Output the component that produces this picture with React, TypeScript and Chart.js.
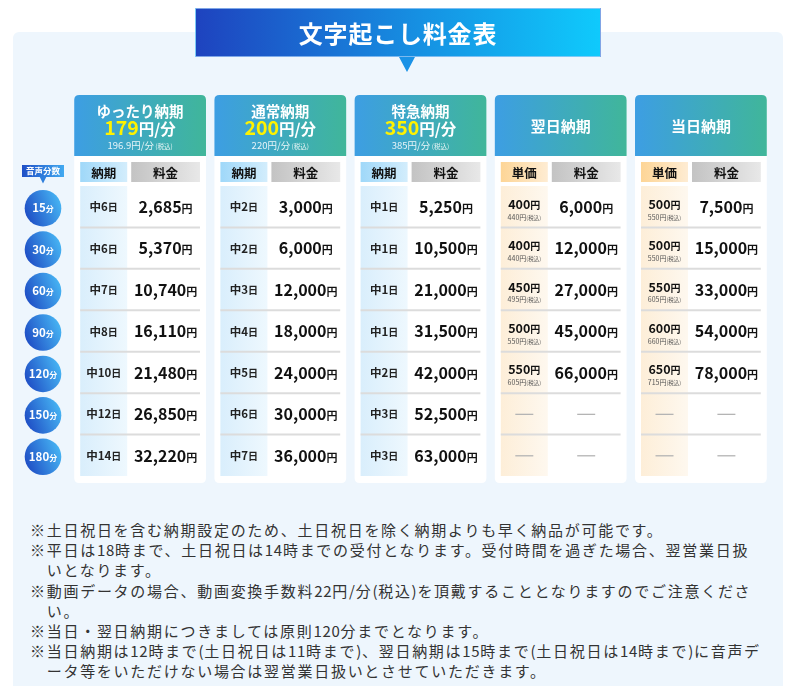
import React, { useEffect, useRef } from 'react';
import { Chart, registerables } from 'chart.js';

Chart.register(...registerables);

// ---------- data ----------
const titleText = '文字起こし料金表';
const durationLabel = '音声分数';
const durations = ['15分', '30分', '60分', '90分', '120分', '150分', '180分'];
const durationNumbers = ['15', '30', '60', '90', '120', '150', '180'];
const planNames = ['ゆったり納期', '通常納期', '特急納期', '翌日納期', '当日納期'];
const planRates = ['179', '200', '350', null, null];
const planRatesTax = ['196.9', '220', '385', null, null];
const subHeadLeft = ['納期', '納期', '納期', '単価', '単価'];
const subHeadRight = ['料金', '料金', '料金', '料金', '料金'];

const yuttariDays = [6, 6, 7, 8, 10, 12, 14];
const yuttariPrices = [2685, 5370, 10740, 16110, 21480, 26850, 32220];
const tsujoDays = [2, 2, 3, 4, 5, 6, 7];
const tsujoPrices = [3000, 6000, 12000, 18000, 24000, 30000, 36000];
const tokkyuDays = [1, 1, 1, 1, 2, 3, 3];
const tokkyuPrices = [5250, 10500, 21000, 31500, 42000, 52500, 63000];
const yokujitsuUnit = [400, 400, 450, 500, 550, null, null];
const yokujitsuUnitTax = [440, 440, 495, 550, 605, null, null];
const yokujitsuPrices = [6000, 12000, 27000, 45000, 66000, null, null];
const toujitsuUnit = [500, 500, 550, 600, 650, null, null];
const toujitsuUnitTax = [550, 550, 605, 660, 715, null, null];
const toujitsuPrices = [7500, 15000, 33000, 54000, 78000, null, null];

const notes: string[][] = [
  ['※土日祝日を含む納期設定のため、土日祝日を除く納期よりも早く納品が可能です。'],
  ['※平日は18時まで、土日祝日は14時までの受付となります。受付時間を過ぎた場合、翌営業日扱', 'いとなります。'],
  ['※動画データの場合、動画変換手数料22円/分(税込)を頂戴することとなりますのでご注意くださ', 'い。'],
  ['※当日・翌日納期につきましては原則120分までとなります。'],
  ['※当日納期は12時まで(土日祝日は11時まで)、翌日納期は15時まで(土日祝日は14時まで)に音声デ', 'ータ等をいただけない場合は翌営業日扱いとさせていただきます。'],
];

// ---------- table structure built from the arrays ----------
type Plan = {
  kind: 'days' | 'unit';
  left: (number | null)[];
  leftTax?: (number | null)[];
  prices: (number | null)[];
};
const plans: Plan[] = [
  { kind: 'days', left: yuttariDays, prices: yuttariPrices },
  { kind: 'days', left: tsujoDays, prices: tsujoPrices },
  { kind: 'days', left: tokkyuDays, prices: tokkyuPrices },
  { kind: 'unit', left: yokujitsuUnit, leftTax: yokujitsuUnitTax, prices: yokujitsuPrices },
  { kind: 'unit', left: toujitsuUnit, leftTax: toujitsuUnitTax, prices: toujitsuPrices },
];

const JP = '"Noto Sans CJK JP", "Noto Sans", sans-serif';

type Run = [string, number, string, number?];

function drawRuns(ctx: CanvasRenderingContext2D, parts: Run[], cx: number, baseline: number) {
  let total = 0;
  const widths: number[] = [];
  parts.forEach(([t, s, , w]) => {
    ctx.font = `${w ?? 700} ${s}px ${JP}`;
    const wd = ctx.measureText(t).width;
    widths.push(wd);
    total += wd;
  });
  let x = cx - total / 2;
  ctx.textAlign = 'left';
  ctx.textBaseline = 'alphabetic';
  parts.forEach(([t, s, c, w], i) => {
    ctx.font = `${w ?? 700} ${s}px ${JP}`;
    ctx.fillStyle = c;
    ctx.fillText(t, x, baseline);
    x += widths[i];
  });
}

function rr(ctx: CanvasRenderingContext2D, x: number, y: number, w: number, h: number, r: number[]) {
  const [tl, tr, br, bl] = r;
  ctx.beginPath();
  ctx.moveTo(x + tl, y);
  ctx.lineTo(x + w - tr, y);
  ctx.quadraticCurveTo(x + w, y, x + w, y + tr);
  ctx.lineTo(x + w, y + h - br);
  ctx.quadraticCurveTo(x + w, y + h, x + w - br, y + h);
  ctx.lineTo(x + bl, y + h);
  ctx.quadraticCurveTo(x, y + h, x, y + h - bl);
  ctx.lineTo(x, y + tl);
  ctx.quadraticCurveTo(x, y, x + tl, y);
  ctx.closePath();
}

function hGrad(ctx: CanvasRenderingContext2D, x0: number, x1: number, c0: string, c1: string) {
  const g = ctx.createLinearGradient(x0, 0, x1, 0);
  g.addColorStop(0, c0);
  g.addColorStop(1, c1);
  return g;
}

const fmt = (n: number) => n.toLocaleString('en-US');

const tablePlugin = {
  id: 'priceTable',
  afterDraw(chart: any) {
    const ctx: CanvasRenderingContext2D = chart.ctx;
    const xs = chart.scales.x;
    const ys = chart.scales.y;
    const band = xs.width / planNames.length;
    const rowH = ys.height / durations.length;
    const cardW = band * 0.94;
    const top = ys.top;
    const bottom = ys.bottom;
    const cardTop = top - 91;
    const headH = 61;
    const cardBottom = bottom + 7;

    ctx.save();

    // left column label
    const lx = xs.left - 27;
    ctx.fillStyle = hGrad(ctx, lx - 21, lx + 21, '#1f4fc6', '#41a9f0');
    ctx.fillRect(lx - 21, top - 21, 42, 12);
    ctx.beginPath();
    ctx.moveTo(lx - 3.5, top - 9.5);
    ctx.lineTo(lx + 3.5, top - 9.5);
    ctx.lineTo(lx, top - 2.5);
    ctx.closePath();
    ctx.fillStyle = '#2f7fdc';
    ctx.fill();
    drawRuns(ctx, [[durationLabel, 8.5, '#ffffff']], lx, top - 12);

    // duration circles
    durations.forEach((_, r) => {
      const cy = ys.getPixelForValue(r) + 1.5;
      const rad = 18.3;
      const g = ctx.createLinearGradient(lx - rad, cy + rad * 0.4, lx + rad, cy - rad * 0.4);
      g.addColorStop(0, '#1e4cc4');
      g.addColorStop(1, '#47b6f4');
      ctx.beginPath();
      ctx.arc(lx, cy, rad, 0, Math.PI * 2);
      ctx.fillStyle = g;
      ctx.fill();
      drawRuns(ctx, [[durationNumbers[r], 11.5, '#ffffff'], ['分', 8, '#ffffff']], lx, cy + 4);
    });

    plans.forEach((plan, i) => {
      const cx = xs.getPixelForValue(i);
      const left = cx - cardW / 2;
      const c1x = left + 6;
      const c1w = 47;
      const c2x = left + 57;
      const c2w = cardW - 63;
      const c1c = c1x + c1w / 2;
      const c2c = c2x + c2w / 2;

      // card body
      rr(ctx, left, cardTop, cardW, cardBottom - cardTop, [5, 5, 5, 5]);
      ctx.fillStyle = '#ffffff';
      ctx.fill();

      // header
      rr(ctx, left, cardTop, cardW, headH, [5, 5, 0, 0]);
      ctx.fillStyle = hGrad(ctx, left, left + cardW, '#3d9ee3', '#40b69a');
      ctx.fill();

      if (planRates[i]) {
        drawRuns(ctx, [[planNames[i], 14.5, '#ffffff']], cx, cardTop + 22);
        drawRuns(ctx, [[planRates[i] as string, 19.5, '#fff200'], ['円/分', 15.5, '#ffffff']], cx, cardTop + 39.5);
        drawRuns(
          ctx,
          [
            [(planRatesTax[i] as string) + '円/分', 9.5, 'rgba(255,255,255,0.88)', 400],
            [' (税込)', 6.5, 'rgba(255,255,255,0.88)', 400],
          ],
          cx,
          cardTop + 53.5
        );
      } else {
        drawRuns(ctx, [[planNames[i], 15, '#ffffff']], cx, cardTop + 37);
      }

      // sub header
      const shTop = top - 24;
      const shH = 20;
      ctx.fillStyle = plan.kind === 'days'
        ? hGrad(ctx, c1x, c1x + c1w, '#9fd8f9', '#d3edfc')
        : hGrad(ctx, c1x, c1x + c1w, '#fdd596', '#feecd3');
      ctx.fillRect(c1x, shTop, c1w, shH);
      ctx.fillStyle = hGrad(ctx, c2x, c2x + c2w, '#c3c3c3', '#e8e8e8');
      ctx.fillRect(c2x, shTop, c2w, shH);
      drawRuns(ctx, [[subHeadLeft[i], 12.5, '#111111']], c1c, top - 8.5);
      drawRuns(ctx, [[subHeadRight[i], 12.5, '#111111']], c2c, top - 8.5);

      // left column background
      ctx.fillStyle = plan.kind === 'days'
        ? hGrad(ctx, c1x, c1x + c1w, '#d9eefc', '#eef8fe')
        : hGrad(ctx, c1x, c1x + c1w, '#fdeed8', '#fef8ef');
      ctx.fillRect(c1x, top, c1w, bottom - top);

      // row separators
      ctx.strokeStyle = '#dcdcdc';
      ctx.lineWidth = 2;
      for (let r = 0; r < durations.length - 1; r++) {
        const y = ys.getPixelForValue(r) + rowH / 2;
        ctx.beginPath();
        ctx.moveTo(c1x, y);
        ctx.lineTo(c2x + c2w, y);
        ctx.stroke();
      }

      // cells
      durations.forEach((_, r) => {
        const cy = ys.getPixelForValue(r);
        const lv = plan.left[r];
        const pv = plan.prices[r];
        if (lv == null || pv == null) {
          ctx.strokeStyle = '#b4b4b4';
          ctx.lineWidth = 1.3;
          [c1c, c2c].forEach((xc) => {
            ctx.beginPath();
            ctx.moveTo(xc - 9, cy + 0.5);
            ctx.lineTo(xc + 9, cy + 0.5);
            ctx.stroke();
          });
          return;
        }
        if (plan.kind === 'days') {
          drawRuns(ctx, [['中', 11.5, '#222222'], [String(lv), 11.5, '#222222'], ['日', 10, '#222222']], c1c, cy + 4.5);
        } else {
          drawRuns(ctx, [[String(lv), 12.5, '#111111'], ['円', 10, '#111111']], c1c, cy + 2);
          const tv = plan.leftTax ? plan.leftTax[r] : null;
          drawRuns(ctx, [[String(tv) + '円', 7, '#555555', 400], ['(税込)', 5.5, '#555555', 400]], c1c, cy + 12.8);
        }
        drawRuns(ctx, [[fmt(pv), 16, '#111111'], ['円', 11, '#111111']], c2c, cy + 6.3);
      });
    });

    ctx.restore();
  },
};

function NoteLine({ text }: { text: string }) {
  const pieces = text.split(/([\x20-\x7e]+)/).filter((p) => p.length > 0);
  return (
    <>
      {pieces.map((p, k) =>
        /^[\x20-\x7e]+$/.test(p) ? (
          <span key={k} style={{ letterSpacing: 0.7 }}>{p}</span>
        ) : (
          <span key={k}>{p}</span>
        )
      )}
    </>
  );
}

export default function App() {
  const canvasRef = useRef<HTMLCanvasElement | null>(null);

  useEffect(() => {
    const canvas = canvasRef.current;
    if (!canvas) return;
    const chart = new Chart(canvas, {
      type: 'scatter',
      data: {
        datasets: planNames.map((name) => ({
          label: name,
          data: durations.map((d) => ({ x: name as any, y: d as any })),
          pointRadius: 0,
          pointHoverRadius: 0,
        })),
      },
      options: {
        responsive: false,
        animation: false,
        devicePixelRatio: 1,
        layout: { padding: { left: 70, right: 27, top: 186, bottom: 14 } },
        plugins: { legend: { display: false }, tooltip: { enabled: false } },
        events: [],
        scales: {
          x: { type: 'category', labels: planNames, offset: true, display: false },
          y: { type: 'category', labels: durations, offset: true, display: false },
        },
      },
      plugins: [tablePlugin],
    });
    return () => chart.destroy();
  }, []);

  return (
    <div style={{ position: 'absolute', left: 0, top: 0, width: 798, height: 686, overflow: 'hidden', background: '#ffffff', fontFamily: JP }}>
      <div style={{ position: 'absolute', left: 13, top: 32, width: 770, height: 670, background: '#eef6fd', borderRadius: 6 }} />
      <canvas ref={canvasRef} width={798} height={490} style={{ position: 'absolute', left: 0, top: 0, width: 798, height: 490 }} />
      <div
        style={{
          position: 'absolute', left: 195, top: 8, width: 406, height: 49,
          background: 'linear-gradient(90deg, #1e43bf 0%, #1690e2 55%, #0fcafc 100%)',
          border: '1px solid rgba(170,205,245,0.7)',
          color: '#ffffff', fontWeight: 700, fontSize: 24, letterSpacing: 0.8,
          lineHeight: '47px', textAlign: 'center', boxSizing: 'border-box',
        }}
      >
        {titleText}
      </div>
      <div
        style={{
          position: 'absolute', left: 399, top: 57, width: 0, height: 0,
          borderLeft: '8px solid transparent', borderRight: '8px solid transparent',
          borderTop: '15px solid #1a92e6',
        }}
      />
      <div style={{ position: 'absolute', left: 30, top: 520, fontSize: 15, lineHeight: '20.2px', color: '#333333', letterSpacing: 1.72 }}>
        {notes.map((lines, i) =>
          lines.map((ln, j) => (
            <div key={`${i}-${j}`} style={{ whiteSpace: 'nowrap', paddingLeft: j === 0 ? 0 : 16.7 }}>
              <NoteLine text={ln} />
            </div>
          ))
        )}
      </div>
    </div>
  );
}
